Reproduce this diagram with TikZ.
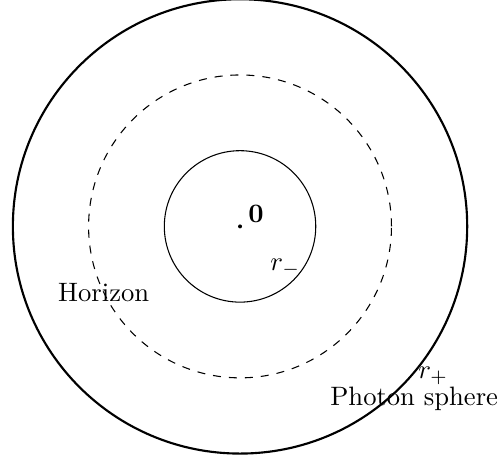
\documentclass[tikz,border=0pt]{standalone}
\begin{document}
\begin{tikzpicture}[
  lbl/.style={inner sep=1pt}
]
\useasboundingbox (-3.17,-3.07) rectangle (3.42,2.99);
\coordinate (O) at (0,0);
\draw (O) circle (1);
\draw[dashed] (O) circle (2);
\draw[thick] (O) circle (3);
\fill (O) circle (0.75pt);
\node[lbl] (zero) at (0.21,0.17) {$\mathbf{0}$};
\node[lbl] (rminus) at (0.6,-0.55) {$r_-$};
\node[lbl] (horizon) at (-1.8,-0.87) {Horizon};
\node[lbl] (rplus) at (2.55,-1.98) {$r_+$};
\node[lbl] (photon) at (2.3,-2.28) {Photon sphere};
\end{tikzpicture}
\end{document}
